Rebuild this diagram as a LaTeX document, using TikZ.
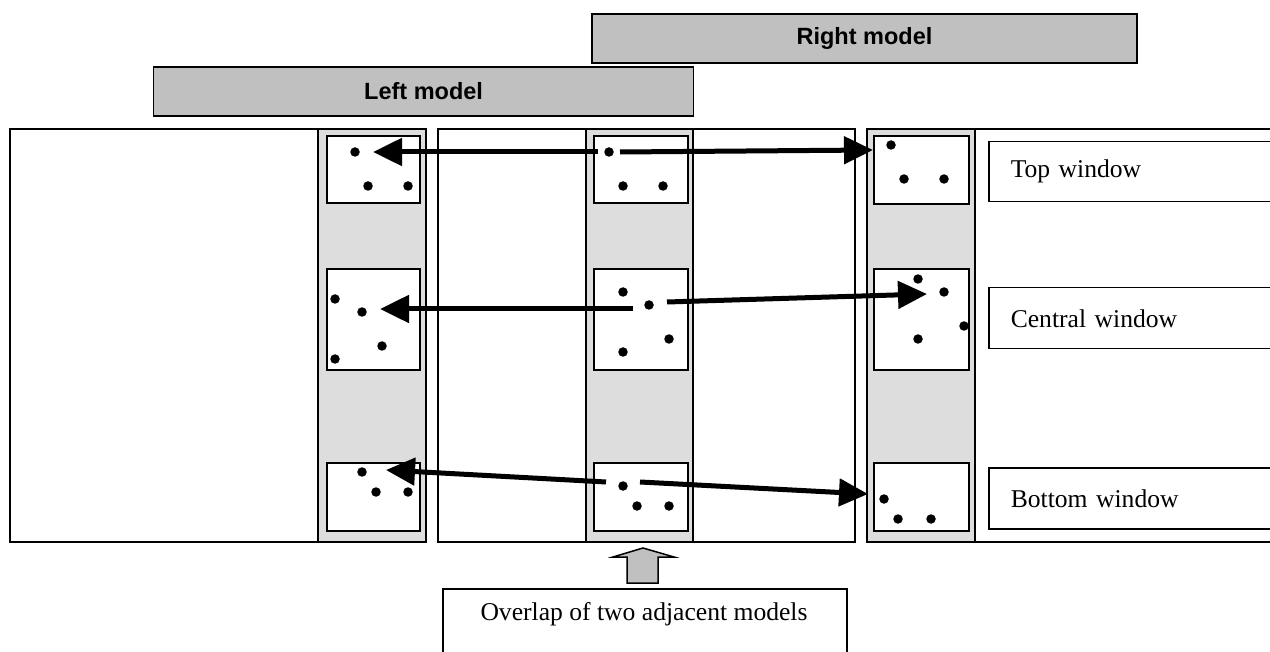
\documentclass[tikz,border=0pt]{standalone}
\usepackage{fontspec}
\setmainfont{Liberation Serif}
\newfontfamily\headfont{Liberation Sans}
\usetikzlibrary{arrows.meta}
\definecolor{modelgray}{RGB}{192,192,192}
\definecolor{stripgray}{RGB}{221,221,221}
\tikzset{
  frame/.style={draw=black, line width=1.5pt},
  strip/.style={fill=stripgray, draw=black, line width=1.5pt},
  win/.style={fill=white, draw=black, line width=2pt, inner sep=0pt, anchor=north west},
  pt/.style={circle, fill=black, inner sep=0pt, minimum size=9.5pt},
  link/.style={line width=5pt, -{Triangle[length=29pt,width=27pt]}},
  modelbox/.style={draw=black, fill=modelgray, line width=1.5pt, inner sep=0pt,
    font=\headfont\bfseries\fontsize{23.5}{28}\selectfont},
  labelbox/.style={draw=black, line width=1.5pt, inner ysep=0pt, inner xsep=22pt,
    anchor=north west, align=left, font=\fontsize{25.6}{30}\selectfont},
  blockarrow/.style={fill=modelgray, draw=black, line width=1.5pt, line join=miter}
}
\begin{document}
\begin{tikzpicture}[x=1pt,y=-1pt]
\useasboundingbox (0,0) rectangle (1270,652);

% model headers
\node[modelbox, minimum width=545pt, minimum height=49pt] (right) at (864.5,38.5) {Right model};
\node[modelbox, minimum width=540pt, minimum height=49pt] (left) at (423.6,91.5) {Left model};

% model frames
\draw[frame] (10,129) rectangle (426,542);
\draw[frame] (438,129) rectangle (855,542);
\draw[frame] (867,129) rectangle (1285,542);

% overlap strips
\draw[strip] (318,129) rectangle (426,542);
\draw[strip] (586,129) rectangle (693,542);
\draw[strip] (867,129) rectangle (975,542);

% windows
\node[win, minimum width=93pt, minimum height=67pt]  (wTL) at (326,135) {};
\node[win, minimum width=94pt, minimum height=67pt]  (wTM) at (593,135) {};
\node[win, minimum width=95pt, minimum height=68pt]  (wTR) at (873,135) {};
\node[win, minimum width=93pt, minimum height=101pt] (wCL) at (326,268) {};
\node[win, minimum width=94pt, minimum height=101pt] (wCM) at (593,268) {};
\node[win, minimum width=95pt, minimum height=101pt] (wCR) at (873,268) {};
\node[win, minimum width=93pt, minimum height=68pt]  (wBL) at (326,462) {};
\node[win, minimum width=94pt, minimum height=68pt]  (wBM) at (593,462) {};
\node[win, minimum width=95pt, minimum height=68pt]  (wBR) at (873,462) {};

% points in the top windows
\node[pt] (tl1) at (355,152) {};
\node[pt] (tl2) at (368,186) {};
\node[pt] (tl3) at (408,186) {};
\node[pt] (tm1) at (609,152) {};
\node[pt] (tm2) at (623,186) {};
\node[pt] (tm3) at (663,186) {};
\node[pt] (tr1) at (891,145) {};
\node[pt] (tr2) at (904,179) {};
\node[pt] (tr3) at (944,179) {};

% points in the central windows
\node[pt] (cl1) at (335,299) {};
\node[pt] (cl2) at (362,312) {};
\node[pt] (cl3) at (382,346) {};
\node[pt] (cl4) at (335,359) {};
\node[pt] (cm1) at (623,292) {};
\node[pt] (cm2) at (649,305) {};
\node[pt] (cm3) at (669,339) {};
\node[pt] (cm4) at (623,352) {};
\node[pt] (cr1) at (918,279) {};
\node[pt] (cr2) at (944,292) {};
\node[pt] (cr3) at (964,326) {};
\node[pt] (cr4) at (918,339) {};

% points in the bottom windows
\node[pt] (bl1) at (362,472) {};
\node[pt] (bl2) at (376,492) {};
\node[pt] (bl3) at (408,492) {};
\node[pt] (bm1) at (623,486) {};
\node[pt] (bm2) at (637,506) {};
\node[pt] (bm3) at (669,506) {};
\node[pt] (br1) at (884,499) {};
\node[pt] (br2) at (898,519) {};
\node[pt] (br3) at (931,519) {};

% arrow ends
\coordinate (tLs) at (598,152);  \coordinate (tLe) at (373,152);
\coordinate (tRs) at (620,152);  \coordinate (tRe) at (873,150);
\coordinate (cLs) at (633,309);  \coordinate (cLe) at (380,309);
\coordinate (cRs) at (667,302);  \coordinate (cRe) at (927,294);
\coordinate (bLs) at (606,482);  \coordinate (bLe) at (386,470);
\coordinate (bRs) at (640,482);  \coordinate (bRe) at (868,494);

\draw[link] (tLs) -- (tLe);
\draw[link] (tRs) -- (tRe);
\draw[link] (cLs) -- (cLe);
\draw[link] (cRs) -- (cRe);
\draw[link] (bLs) -- (bLe);
\draw[link] (bRs) -- (bRe);

% window labels
\node[labelbox, minimum height=60pt, text width=243pt] (ltop) at (988,141) {Top window};
\node[labelbox, minimum height=61pt, text width=243pt] (lcen) at (988,287) {Central window};
\node[labelbox, minimum height=61pt, text width=243pt] (lbot) at (988,467) {Bottom window};

% overlap label with block arrow
\node[draw=black, line width=1.5pt, minimum width=404pt, minimum height=75pt, anchor=north west, inner sep=0pt] (overlap) at (442,588) {};
\node[font=\fontsize{25.6}{30}\selectfont, anchor=base, inner sep=0pt] (overlaptext) at (644,620) {Overlap of two adjacent models};
\draw[blockarrow] (643,548) -- (674,557) -- (658,557) -- (658,583) -- (627,583) -- (627,557) -- (613,557) -- cycle;
\end{tikzpicture}
\end{document}
